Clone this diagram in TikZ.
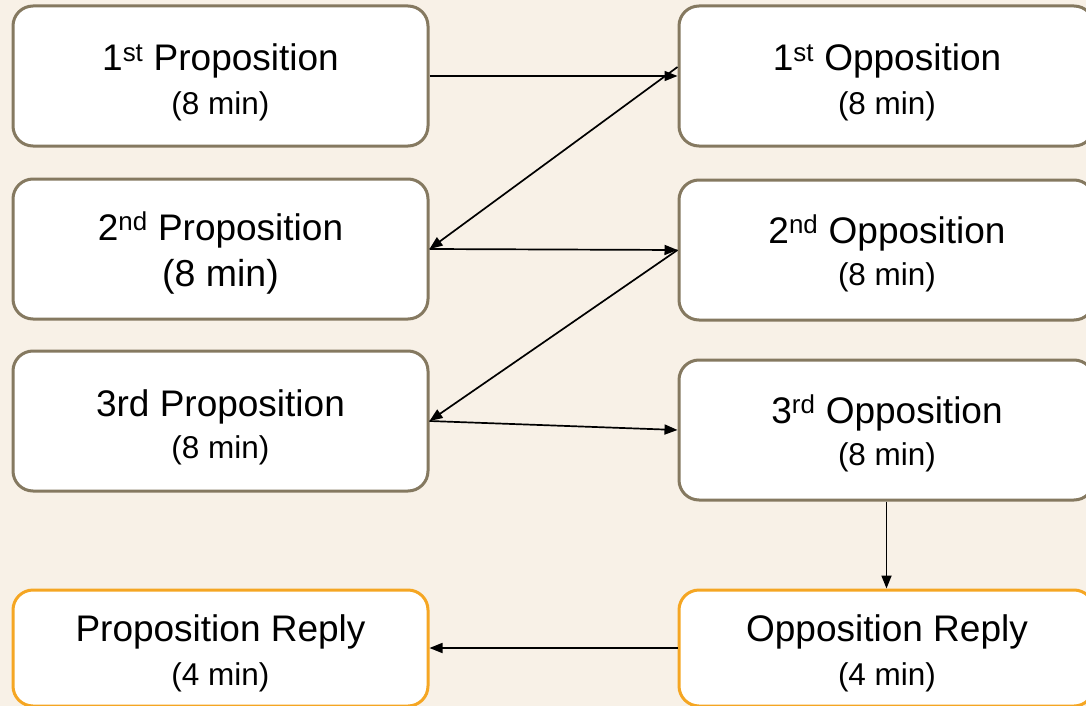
\documentclass[tikz,border=0pt]{standalone}
\usepackage{fontspec}
\setmainfont{Liberation Sans}
\usetikzlibrary{arrows.meta}
\definecolor{bgc}{HTML}{F8F1E7}
\definecolor{boxline}{HTML}{857960}
\definecolor{replyline}{HTML}{F5A623}
\tikzset{
  box/.style={draw=boxline, line width=3pt, fill=white, rounded corners=20pt,
    minimum width=415pt, minimum height=140pt, inner sep=0pt},
  replybox/.style={box, draw=replyline, minimum height=116pt},
  titletext/.style={anchor=base, font=\fontsize{37}{42}\selectfont, inner sep=0pt},
  subtext/.style={anchor=base, font=\fontsize{31.5}{36}\selectfont, inner sep=0pt},
  bigsub/.style={anchor=base, font=\fontsize{37.5}{42}\selectfont, inner sep=0pt},
  conn/.style={line width=1.7pt, -{Triangle[length=13pt,width=10pt]}},
}
\begin{document}
\begin{tikzpicture}[x=1pt,y=-1pt]
\fill[bgc] (0,0) rectangle (1086,706);
\useasboundingbox (0,0) rectangle (1086,706);
\begin{pgfinterruptboundingbox}
\begin{scope}
\clip (0,0) rectangle (1086,706);
% boxes
\node[box] (P1) at (220.5,76) {};
\node[box] (P2) at (220.5,249) {};
\node[box] (P3) at (220.5,421) {};
\node[replybox] (PR) at (220.5,648) {};
\node[box] (O1) at (886.5,76) {};
\node[box] (O2) at (886.5,250) {};
\node[box] (O3) at (886.5,430) {};
\node[replybox] (OR) at (886.5,648) {};
% texts
\node[titletext] (P1t) at (220.5,71) {1\textsuperscript{st} Proposition};
\node[subtext] (P1s) at (220.5,115) {(8 min)};
\node[titletext] (P2t) at (220.5,240) {2\textsuperscript{nd} Proposition};
\node[bigsub] (P2s) at (220.5,286) {(8 min)};
\node[titletext] (P3t) at (220.5,416.5) {3rd Proposition};
\node[subtext] (P3s) at (220.5,458) {(8 min)};
\node[titletext] (PRt) at (220.5,641) {Proposition Reply};
\node[subtext] (PRs) at (220.5,685) {(4 min)};
\node[titletext] (O1t) at (887,71) {1\textsuperscript{st} Opposition};
\node[subtext] (O1s) at (887,115) {(8 min)};
\node[titletext] (O2t) at (887,243) {2\textsuperscript{nd} Opposition};
\node[subtext] (O2s) at (887,285) {(8 min)};
\node[titletext] (O3t) at (887,423) {3\textsuperscript{rd} Opposition};
\node[subtext] (O3s) at (887,465) {(8 min)};
\node[titletext] (ORt) at (887,641) {Opposition Reply};
\node[subtext] (ORs) at (887,685) {(4 min)};
% connectors
\draw[conn] (P1.east) -- (O1.west);
\draw[conn] ([yshift=9pt]O1.west) -- (P2.east);
\draw[conn] (P2.east) -- (O2.west);
\draw[conn] (O2.west) -- (P3.east);
\draw[conn] (P3.east) -- (O3.west);
\draw[conn] (O3.south) -- (OR.north);
\draw[conn] (OR.west) -- (PR.east);
\end{scope}
\end{pgfinterruptboundingbox}
\end{tikzpicture}
\end{document}
